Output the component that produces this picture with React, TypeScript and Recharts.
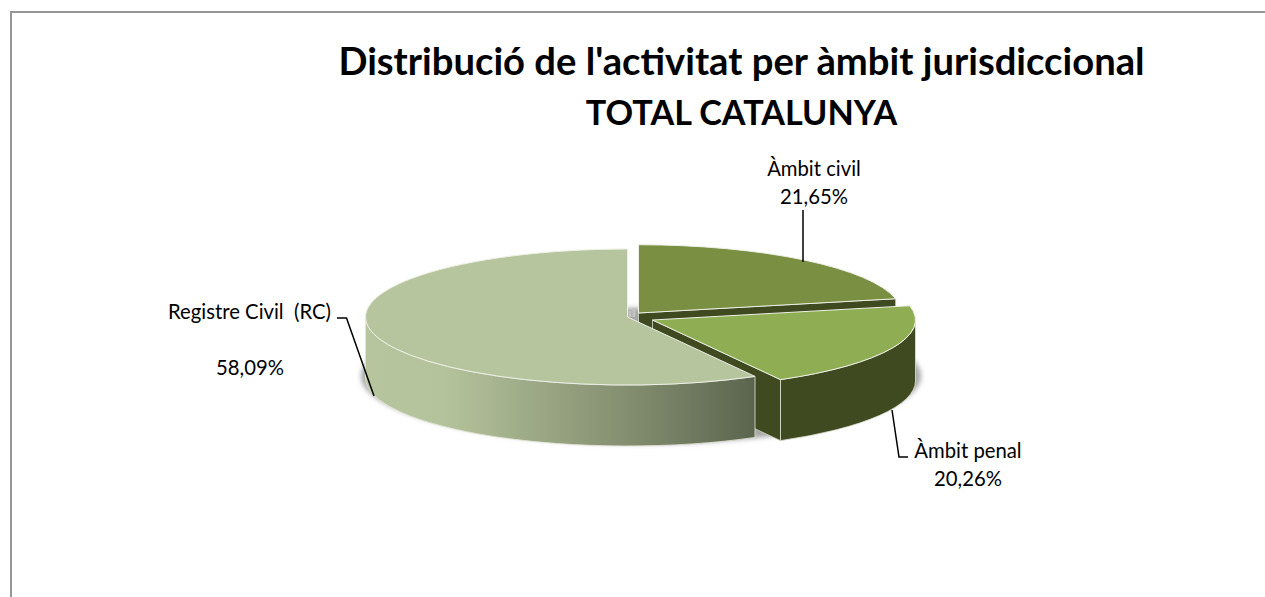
import { PieChart, Pie } from "recharts"

const categories = ["Àmbit civil", "Àmbit penal", "Registre Civil  (RC)"]
const shares = [21.65, 20.26, 58.09]
const titleLines = ["Distribució de l'activitat per àmbit jurisdiccional", "TOTAL CATALUNYA"]
const titleSizes = [38.2, 34.2]

const topColors = ["#7a8f42", "#8fae53", "#b7c59e"]
const wallColors = ["#3f4a21", "#3f4a21", "url(#rcWall)"]

const data = categories.map((name, i) => ({ name, value: shares[i] }))

const CX = 627.5
const CY = 317
const R = 262
const SQUASH = 68 / 262
const DEPTH = 61
// how far each slice is pulled out of the pie
const explode = [
    { dx: 11, dy: -4 },
    { dx: 25, dy: 3 },
    { dx: 0, dy: 0 },
]
const labelStyle = [
    { nameX: 814, nameY: 176, valueX: 814, valueY: 204, line: "803,210 803,262" },
    { nameX: 968, nameY: 458, valueX: 968, valueY: 486, line: "892,410 899,457 908,457" },
    { nameX: 249.5, nameY: 319, valueX: 250, valueY: 375, line: "337,318 346.5,318 374,396" },
]

const FONT = "Lato, sans-serif"

function slice3d(props: any) {
    const { cx, cy, outerRadius, startAngle, endAngle, index } = props
    const ox = cx + explode[index].dx
    const oy = cy + explode[index].dy
    const rx = index === 2 ? outerRadius : outerRadius + 1
    const ry = rx * SQUASH
    const px = (a: number) => ox + rx * Math.cos((a * Math.PI) / 180)
    const py = (a: number) => oy - ry * Math.sin((a * Math.PI) / 180)
    const large = Math.abs(endAngle - startAngle) > 180 ? 1 : 0

    const top = `M${ox},${oy} L${px(startAngle)},${py(startAngle)} A${rx},${ry} 0 ${large} 1 ${px(endAngle)},${py(endAngle)} Z`

    // only the front half of the rim can be seen
    const a1 = Math.min(startAngle, 0)
    const a2 = Math.max(endAngle, -180)
    const rim =
        a1 > a2
            ? `M${px(a1)},${py(a1)} A${rx},${ry} 0 0 1 ${px(a2)},${py(a2)} L${px(a2)},${py(a2) + DEPTH} A${rx},${ry} 0 0 0 ${px(a1)},${py(a1) + DEPTH} Z`
            : null
    const cut =
        index < 2
            ? `M${ox},${oy} L${px(endAngle)},${py(endAngle)} l0,${DEPTH} L${ox},${oy + DEPTH} Z`
            : null

    return (
        <g>
            {index === 2 && (
                <defs>
                    <linearGradient id="rcWall" gradientUnits="userSpaceOnUse" x1={cx - rx} x2={px(startAngle)} y1={0} y2={0}>
                        <stop offset="0" stopColor="#b7c59e" />
                        <stop offset="0.2" stopColor="#b5c39c" />
                        <stop offset="0.7" stopColor="#808b6d" />
                        <stop offset="1" stopColor="#5b654e" />
                    </linearGradient>
                </defs>
            )}
            {index === 0 && (
                <g fill="#c4c4c4">
                    <rect x={cx + 1} y={cy - 6} width={3} height={6} />
                    <rect x={cx + 5} y={cy - 9} width={3} height={9} />
                </g>
            )}
            {cut && <path d={cut} fill={wallColors[index]} stroke="#d9dccb" strokeWidth={0.8} />}
            {rim && <path d={rim} fill={wallColors[index]} stroke="#e3e6d8" strokeWidth={0.8} />}
            <path d={top} fill={topColors[index]} stroke="#eef0e6" strokeWidth={1} strokeLinejoin="round" />
        </g>
    )
}

function sliceLabel(props: any) {
    const { index, name, value } = props
    const l = labelStyle[index]
    return (
        <g fontFamily={FONT} fontSize={20.3} fill="#000">
            <polyline points={l.line} fill="none" stroke="#000" strokeWidth={1.5} />
            <text x={l.nameX} y={l.nameY} textAnchor="middle" style={{ whiteSpace: "pre" }}>
                {name}
            </text>
            <text x={l.valueX} y={l.valueY} textAnchor="middle">
                {value.toFixed(2).replace(".", ",")}%
            </text>
        </g>
    )
}

export default function App() {
    return (
        <div style={{ position: "absolute", left: 0, top: 0, width: 1265, height: 597, background: "#fff", overflow: "hidden" }}>
            <PieChart width={1265} height={597} margin={{ top: 0, right: 0, bottom: 0, left: 0 }}>
                <defs>
                    <filter id="pieShadow" x="-10%" y="-30%" width="120%" height="160%">
                        <feGaussianBlur stdDeviation="2.5" />
                    </filter>
                </defs>
                <path d="M11,597 L11,12 L1265,12" fill="none" stroke="#969696" strokeWidth={2} />
                <ellipse cx={641} cy={376} rx={280} ry={68} fill="#a6a6a6" filter="url(#pieShadow)" />
                {titleLines.map((t, i) => (
                    <text
                        key={t}
                        x={741.5}
                        y={75 + i * 50}
                        textAnchor="middle"
                        fontFamily={FONT}
                        fontWeight={700}
                        fontSize={titleSizes[i]}
                        fill="#000"
                    >
                        {t}
                    </text>
                ))}
                <Pie
                    data={data}
                    dataKey="value"
                    nameKey="name"
                    cx={CX}
                    cy={CY}
                    outerRadius={R}
                    startAngle={90}
                    endAngle={-270}
                    stroke="none"
                    shape={slice3d}
                    label={sliceLabel}
                    labelLine={false}
                    isAnimationActive={false}
                />
            </PieChart>
        </div>
    )
}
